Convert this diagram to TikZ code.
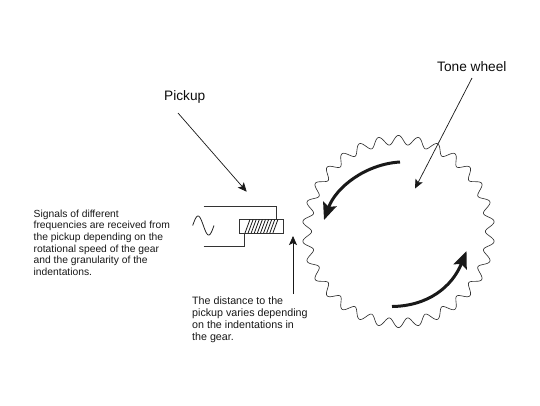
\documentclass[tikz,border=0pt]{standalone}
\usepackage{fontspec}
\setmainfont{Liberation Sans}
\usetikzlibrary{arrows.meta}
\tikzset{
 wire/.style={draw=black!80,line width=0.9pt},
 pointer/.style={draw=black!90,line width=0.7pt,-{Stealth[length=9pt,width=8pt,inset=2pt]}},
 bigarrow/.style={draw=black!90,line width=3pt,-{Stealth[length=17pt,width=14pt,inset=3pt]}},
 note/.style={align=left,anchor=north west,inner sep=0pt,font=\fontsize{10.3}{11.7}\selectfont,text=black!90},
 title/.style={inner sep=0pt,font=\fontsize{13.7}{15}\selectfont,text=black!95},
}
\begin{document}
\begin{tikzpicture}[x=1pt,y=-1pt]
\useasboundingbox[fill=white] (0,0) rectangle (540,405);
% tone wheel
\draw[draw=black!80,line width=0.65pt,domain=0:360,samples=721,smooth] plot ({398.5+(91.5+4.6*cos(30*\x))*sin(\x)},{231.5-(91.5+4.6*cos(30*\x))*cos(\x)}) -- cycle;
% big arrows
\coordinate (u1) at (400,162);
\coordinate (u2) at (324,220);
\coordinate (l1) at (392,306.5);
\coordinate (l2) at (466.5,251);
\draw[bigarrow] (u1) .. controls (366,164) and (336,187) .. (u2);
\draw[bigarrow] (l1) .. controls (428,306) and (452,287) .. (l2);
% pickup
\node[draw=black!80,line width=0.8pt,minimum width=44pt,minimum height=14pt,inner sep=0pt] (core) at (261.3,226.3) {};
\foreach \i in {0,...,9}{
  \draw[black!90,line width=0.8pt] ({245+\i*3.1},233) -- ({250+\i*3.1},219.5);
}
\coordinate (wt) at (203.5,206);
\coordinate (wb) at (203.5,246);
\draw[wire] (wt) -| (276,219.3);
\draw[wire] (wb) -| (244,233.3);
\draw[black!85,line width=0.8pt,domain=0:360,samples=80,smooth] plot ({192.7+21.3*\x/360},{225.5-9.5*sin(\x)});
% labels
\node[title,anchor=west] (tone) at (437,67) {Tone wheel};
\node[title,anchor=west] (pick) at (164,97) {Pickup};
\node[note] (sig) at (33.5,209.5) {Signals of different\\frequencies are received from\\the pickup depending on the\\rotational speed of the gear\\and the granularity of the\\indentations.};
\node[note,font=\fontsize{10.7}{11.9}\selectfont] (dist) at (192,297) {The distance to the\\pickup varies depending\\on the indentations in\\the gear.};
% pointers
\coordinate (pt) at (246.7,191.7);
\coordinate (tt) at (415,188.5);
\coordinate (at) at (293,236);
\coordinate (ab) at (293,294);
\draw[pointer] (178,113) -- (pt);
\draw[pointer] (472,78) -- (tt);
\draw[pointer] (ab) -- (at);
\end{tikzpicture}
\end{document}
